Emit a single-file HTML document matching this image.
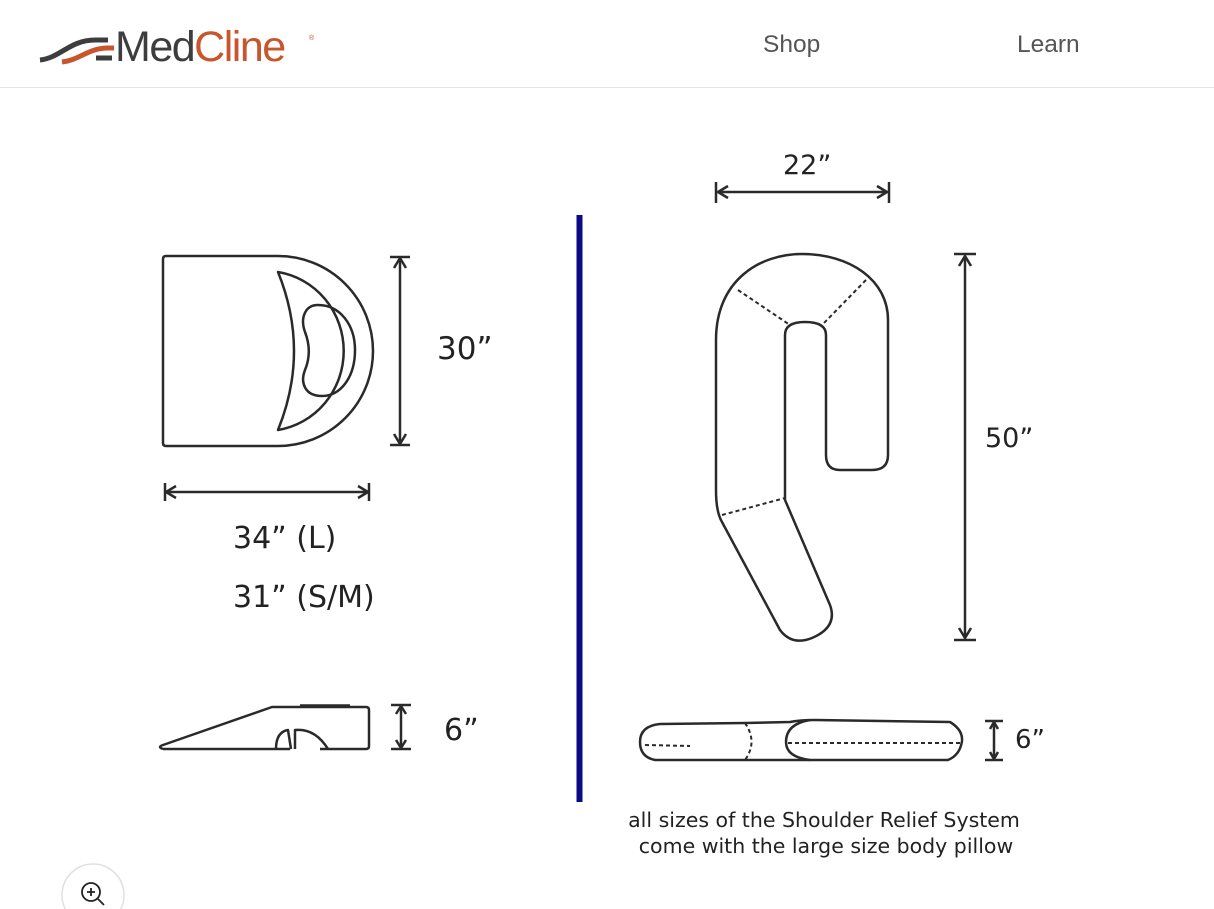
<!DOCTYPE html>
<html><head><meta charset="utf-8"><style>
html,body{margin:0;padding:0;background:#fff;width:1214px;height:909px;overflow:hidden;font-family:"Liberation Sans",sans-serif}
</style></head><body>
<svg width="1214" height="909" viewBox="0 0 1214 909" xmlns="http://www.w3.org/2000/svg">
<!-- header -->
<path d="M40,60 C60,58 70,40 95,40 L108,40" stroke="#3d3d3d" stroke-width="5" fill="none"/>
<path d="M62,62 C80,60 88,48 108,48 L114,48" stroke="#c8552b" stroke-width="5" fill="none"/>
<path d="M96,58 L112,58" stroke="#3d3d3d" stroke-width="5"/>
<text x="115" y="61" font-size="43" fill="#3d3d3d" letter-spacing="-1.5">Med<tspan fill="#c8552b">Cline</tspan></text>
<text x="309" y="40" font-size="7" fill="#c8552b">®</text>
<text x="763" y="52" font-size="24.5" fill="#555">Shop</text>
<text x="1017" y="52" font-size="24.5" fill="#555">Learn</text>
<line x1="0" y1="87.5" x2="1214" y2="87.5" stroke="#e4e4e4" stroke-width="1"/>
<g fill="none" stroke="#2a2a2a" stroke-width="2.5" stroke-linejoin="round">
<path d="M166,256 L278,256 A95,95 0 0 1 278,446 L166,446 Q163,446 163,443 L163,259 Q163,256 166,256 Z"/>
<path d="M278,272 A78,80 0 0 1 278,430 Q310,351 278,272 Z"/>
<path d="M318,305 C340,305 355,325 355,350 C355,378 340,396 322,396 C305,396 300,383 305,370 C310,358 310,345 305,332 C300,318 305,305 318,305 Z"/>
<line x1="400" y1="258" x2="400" y2="444"/><line x1="390" y1="257" x2="410" y2="257"/><line x1="390" y1="445" x2="410" y2="445"/>
<path d="M394,268 L400,258 L406,268 M394,434 L400,444 L406,434"/>
<line x1="166" y1="492" x2="368" y2="492"/><line x1="165" y1="483" x2="165" y2="501"/><line x1="369" y1="483" x2="369" y2="501"/>
<path d="M176,486 L166,492 L176,498 M358,486 L368,492 L358,498"/>
<path d="M163,749 Q157,747 163,745 L272,707 L366,707 Q369,707 369,710 L369,746 Q369,749 366,749 L320,749 M290,749 L163,749"/>
<path d="M276,749 Q276,732 288,730 L291,749 M295,749 L295,730 Q315,728 328,749"/>
<path d="M300,706 L350,706" stroke-width="3.5"/>
<line x1="401" y1="706" x2="401" y2="748"/><line x1="391" y1="705" x2="411" y2="705"/><line x1="391" y1="749" x2="411" y2="749"/>
<path d="M396,714 L401,706 L406,714 M396,740 L401,748 L406,740"/>
<path d="M716,340 C716,280 760,254 802,254 C850,254 888,280 888,320 L888,455 Q888,470 872,470 L840,470 Q826,470 826,455 L826,335 Q826,322 805,322 Q785,322 785,335 L785,500 L830,605 Q838,627 812,638 Q792,646 780,630 L722,522 Q716,512 716,490 Z"/>
<path d="M738,290 L790,325 M866,280 L822,325 M722,515 L785,498" stroke-dasharray="4,3" stroke-width="2"/>
<line x1="718" y1="192" x2="887" y2="192"/><line x1="716" y1="182" x2="716" y2="203"/><line x1="889" y1="182" x2="889" y2="203"/>
<path d="M728,186 L718,192 L728,198 M877,186 L887,192 L877,198"/>
<line x1="965" y1="256" x2="965" y2="638"/><line x1="954" y1="254" x2="976" y2="254"/><line x1="954" y1="640" x2="976" y2="640"/>
<path d="M959,266 L965,256 L971,266 M959,628 L965,638 L971,628"/>
<path d="M660,724 L745,723 L790,722 Q800,720 815,720 L950,722 Q963,730 962,741 Q960,755 948,760 L810,760 L790,760 L745,760 L655,760 Q640,757 640,742 Q640,726 660,724 Z"/>
<path d="M810,720 Q786,724 786,742 Q786,757 810,760"/>
<path d="M745,723 Q758,742 745,760" stroke-dasharray="4,3" stroke-width="2"/>
<path d="M645,745 L690,746 M788,743 L960,743" stroke-dasharray="4,3" stroke-width="2"/>
<line x1="994" y1="722" x2="994" y2="759"/><line x1="985" y1="721" x2="1003" y2="721"/><line x1="985" y1="760" x2="1003" y2="760"/>
<path d="M990,729 L994,722 L998,729 M990,752 L994,759 L998,752"/>
</g>
<line x1="579.5" y1="215" x2="579.5" y2="802" stroke="#0a0a85" stroke-width="6"/>
<g fill="#222" font-family="'DejaVu Sans','Liberation Sans',sans-serif">
<text x="437" y="359" font-size="31">30”</text>
<text x="233" y="548" font-size="30">34” (L)</text>
<text x="233" y="607" font-size="30">31” (S/M)</text>
<text x="444" y="740" font-size="30">6”</text>
<text x="783" y="174" font-size="27">22”</text>
<text x="985" y="447" font-size="27">50”</text>
<text x="1015" y="748" font-size="26">6”</text>
<text x="824" y="827" font-size="20.5" text-anchor="middle">all sizes of the Shoulder Relief System</text>
<text x="826" y="853" font-size="20.5" text-anchor="middle">come with the large size body pillow</text>
</g>
<circle cx="93" cy="895" r="31" fill="#fff" stroke="#e0e0e0" stroke-width="1.5"/>
<circle cx="91" cy="892" r="9" fill="none" stroke="#222" stroke-width="1.8"/>
<path d="M97,898 L104,905 M87,892 L95,892 M91,888 L91,896" stroke="#222" stroke-width="1.8"/>
</svg>
</body></html>
